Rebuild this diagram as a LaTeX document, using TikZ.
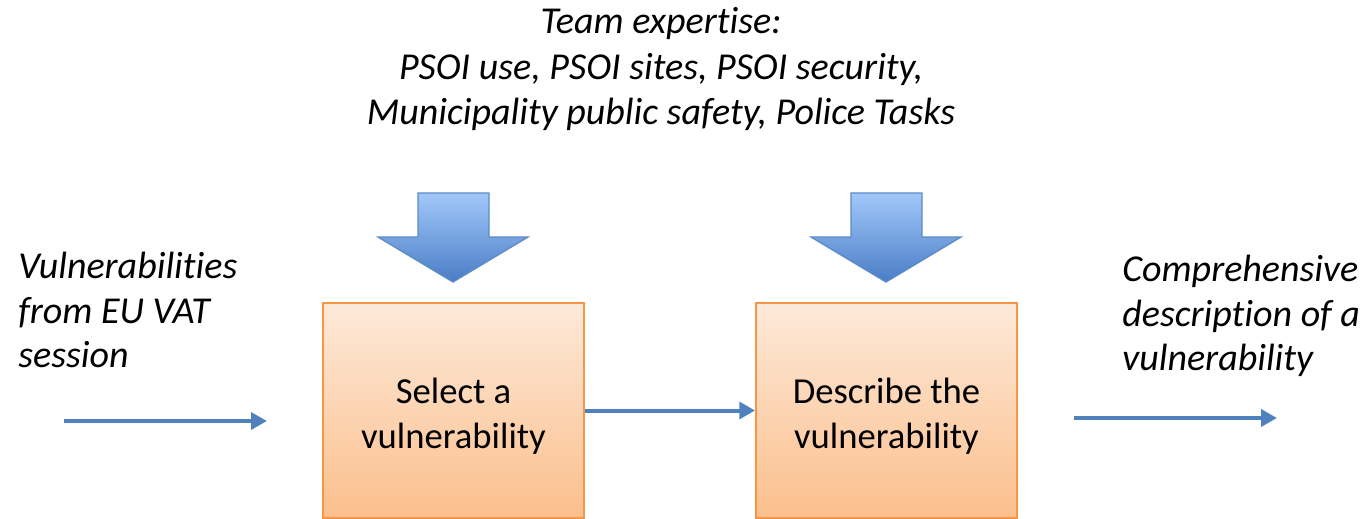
\documentclass[tikz,border=0pt]{standalone}
\usepackage{fontspec}
\setmainfont{Carlito}[RawFeature={-liga;-clig;-calt;-dlig}]
\usetikzlibrary{arrows.meta,positioning}

\definecolor{flowblue}{HTML}{4F81BD}
\definecolor{boxedge}{HTML}{F79646}
\definecolor{boxtop}{HTML}{FDE9D9}
\definecolor{boxbot}{HTML}{FBBF8C}
\definecolor{bigtop}{HTML}{A2C8FA}
\definecolor{bigbot}{HTML}{4A7DC6}
\definecolor{bigedge}{HTML}{5B8BC8}

\newcommand{\toppad}{\rule{0pt}{22pt}}

\begin{document}
\begin{tikzpicture}[x=0.6pt, y=-0.6pt,
    flow/.style={draw=flowblue, line width=2.4pt, -{Triangle[length=9.5pt,width=10pt]}},
    stepbox/.style={draw=boxedge, line width=1pt, top color=boxtop, bottom color=boxbot,
        minimum width=156.6pt, minimum height=129pt, align=center,
        font=\fontsize{22}{27}\selectfont},
    note/.style={inner sep=0pt, font=\fontsize{22.8}{26.5}\selectfont\itshape},
    bigarrow/.style={draw=bigedge, line width=0.8pt, top color=bigtop, bottom color=bigbot}]

    \useasboundingbox (0,0) rectangle (1361,519);

    % Team expertise on top
    \node[note, align=center, font=\fontsize{22.8}{27.3}\selectfont\itshape] (team) at (661,69)
        {Team expertise:\\PSOI use, PSOI sites, PSOI security,\\Municipality public safety, Police Tasks};

    % The two steps
    \node[stepbox] (sel) at (453.5,410.5) {\toppad Select a\\vulnerability};
    \node[stepbox] (desc) at (886.5,410.5) {\toppad Describe the\\vulnerability};

    % Block arrows from the expertise down to the steps
    \foreach \cx in {453,886} {
        \draw[bigarrow] (\cx-35,193) -- (\cx+36,193) -- (\cx+36,237) -- (\cx+75,237)
            -- (\cx,282) -- (\cx-75,237) -- (\cx-35,237) -- cycle;
    }

    % Input and output
    \node[note, align=left, anchor=west] (vin) at (18,310)
        {Vulnerabili\kern0pt ties\\from EU VAT\\session};
    \node[note, align=left, anchor=west] (vout) at (1122,316)
        {Comprehensive\\description of a\\vulnerability};

    \coordinate (inA) at (64,421);
    \coordinate (inB) at (267,421);
    \coordinate (outA) at (1074,418);
    \coordinate (outB) at (1277,418);

    \draw[flow] (inA) -- (inB);
    \draw[flow] (sel.east) -- (desc.west);
    \draw[flow] (outA) -- (outB);

\end{tikzpicture}
\end{document}
